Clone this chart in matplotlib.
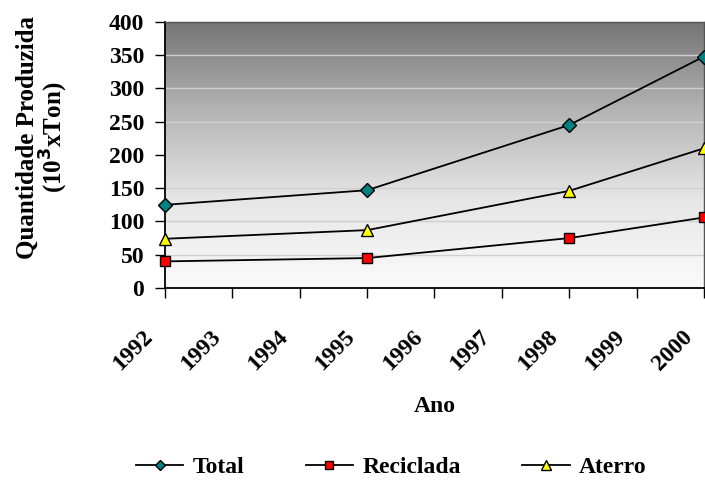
import numpy as np
import matplotlib
matplotlib.use("Agg")
import matplotlib.pyplot as plt
from matplotlib.colors import LinearSegmentedColormap
from matplotlib.transforms import ScaledTranslation

years = [1992, 1995, 1998, 2000]
total = [125, 147, 245, 348]
reciclada = [40, 45, 75, 106]
aterro = [74, 87, 146, 210]
year_ticks = list(range(1992, 2001))
y_ticks = list(range(0, 401, 50))

plt.rcParams['font.family'] = ['Liberation Serif', 'DejaVu Serif']
plt.rcParams['font.weight'] = 'bold'

fig = plt.figure(figsize=(7.05, 4.82), dpi=100)
ax = fig.add_axes([0.234, 0.4025, 0.7645, 0.552])

# vertical grey gradient background
cmap = LinearSegmentedColormap.from_list('bg', ['#fbfbfb', '#e6e6e6', '#b4b4b4', '#747474'])
grad = np.linspace(0, 1, 256).reshape(-1, 1)
ax.imshow(grad, extent=[1992, 2000, 0, 400], origin='lower', aspect='auto',
          cmap=cmap, zorder=0)

for y in y_ticks[1:-1]:
    ax.axhline(y, color='#d0d0d0', lw=1, zorder=1)

common = dict(color='black', lw=1.3, markeredgecolor='black', markeredgewidth=1,
              clip_on=False, zorder=3)
ax.plot(years, total, marker='D', markersize=7, markerfacecolor='#008080', label='Total', **common)
ax.plot(years, reciclada, marker='s', markersize=7, markerfacecolor='#ff0000', label='Reciclada', **common)
ax.plot(years, aterro, marker='^', markersize=9, markerfacecolor='#ffff00', label='Aterro', **common)

ax.set_xlim(1992, 2000)
ax.set_ylim(0, 400)
ax.set_yticks(y_ticks)
ax.set_xticks(year_ticks)
ax.set_xticklabels([str(y) for y in year_ticks], rotation=45, ha='right', va='center',
                   rotation_mode='anchor', fontsize=17, fontweight='bold')
ax.set_yticklabels([str(v) for v in y_ticks], fontsize=17, fontweight='bold')
ax.tick_params(axis='both', direction='out', length=7, width=1, color='black')
ax.tick_params(axis='x', pad=26)
ax.tick_params(axis='y', pad=8)

shift = ScaledTranslation(-15 / 100, 0, fig.dpi_scale_trans)
for lbl in ax.get_xticklabels():
    lbl.set_transform(lbl.get_transform() + shift)

for side in ['left', 'bottom']:
    ax.spines[side].set_color('black')
    ax.spines[side].set_linewidth(1.3)
for side in ['top', 'right']:
    ax.spines[side].set_color('#555555')
    ax.spines[side].set_linewidth(1.0)

fig.text(0.617, 1 - 406 / 482, 'Ano', ha='center', va='center',
         fontsize=17, fontweight='bold')
fig.text(0.038, 0.715, 'Quantidade Produzida', rotation=90, ha='center', va='center',
         fontsize=18, fontweight='bold')
fig.text(0.076, 0.715, r'(10$^{\mathbf{3}}$xTon)', rotation=90, ha='center', va='center',
         fontsize=18, fontweight='bold')

fig.legend(loc='center', bbox_to_anchor=(0.555, 0.03), ncol=3, frameon=False,
           prop={'size': 17, 'weight': 'bold'}, handlelength=2.0, columnspacing=2.6,
           handletextpad=0.4, markerscale=0.75)

fig.savefig('out.png', dpi=100)
